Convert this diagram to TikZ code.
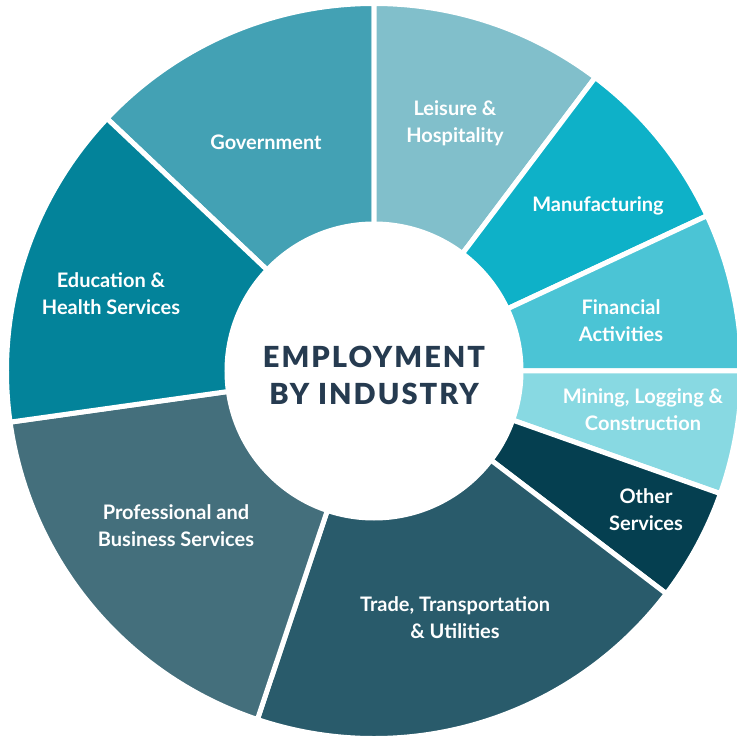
\documentclass[tikz,border=0pt]{standalone}
\usepackage{fontspec}
\setmainfont{Lato}
\newfontfamily\titlefont[LetterSpace=7]{Lato Black}

\definecolor{govcol}{HTML}{43A1B4}
\definecolor{leiscol}{HTML}{81BFCB}
\definecolor{mancol}{HTML}{0EB1C8}
\definecolor{fincol}{HTML}{4BC4D5}
\definecolor{mincol}{HTML}{88D9E2}
\definecolor{othcol}{HTML}{053F50}
\definecolor{tradecol}{HTML}{295B6B}
\definecolor{profcol}{HTML}{446F7C}
\definecolor{educol}{HTML}{03839A}
\definecolor{titlecol}{HTML}{263B50}

\tikzset{
  sector/.style={draw=white, line width=2.5pt},
  seglabel/.style={text=white, align=center, font=\fontsize{10}{13.5}\selectfont\bfseries},
  titletext/.style={text=titlecol, align=center, font=\titlefont\fontsize{14.5}{18.5}\selectfont},
}

\begin{document}
\begin{tikzpicture}[x=0.5pt,y=0.5pt]
\useasboundingbox (-374,-366) rectangle (362,371);
% ring
\foreach \a/\b/\c in {90/136.6/govcol, 53/90/leiscol, 25/53/mancol, 0/25/fincol,
    -19.5/0/mincol, -37.3/-19.5/othcol, -108.5/-37.3/tradecol,
    -172/-108.5/profcol, 136.6/188/educol}
  \filldraw [sector, fill=\c] (0,0) -- (\a:367.5) arc[start angle=\a, end angle=\b, radius=367.5] -- cycle;
\fill [white] (0,0) circle (149.5);
% labels
\node [seglabel] (gov) at (-108,229) {Government};
\node [seglabel] (leisure) at (81,248) {Leisure \&\\Hospitality};
\node [seglabel] (manuf) at (224,165) {Manufacturing};
\node [seglabel] (fin) at (247,50) {Financial\\Activities};
\node [seglabel] (mining) at (269,-39) {Mining, Logging \&\\Construction};
\node [seglabel] (other) at (272,-139) {Other\\Services};
\node [seglabel] (trade) at (81,-247) {Trade, Transportation\\\& Utilities};
\node [seglabel] (prof) at (-198,-155) {Professional and\\Business Services};
\node [seglabel] (edu) at (-263,77) {Education \&\\Health Services};
\node [titletext] (title) at (0,-4) {EMPLOYMENT\\BY INDUSTRY};
\end{tikzpicture}
\end{document}
